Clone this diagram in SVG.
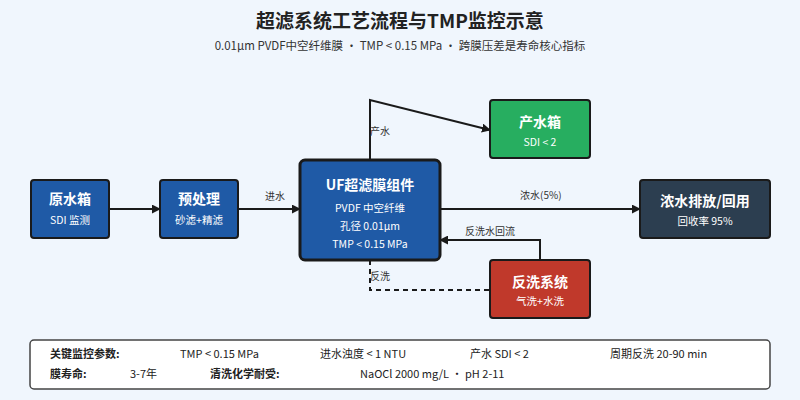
<svg xmlns="http://www.w3.org/2000/svg" width="800" height="400" viewBox="0 0 800 400">
<defs>
<marker id="ah" viewBox="0 0 10 10" refX="9" refY="5" markerWidth="4.5" markerHeight="4.5" orient="auto"><path d="M0,0L10,5L0,10z" fill="#1a1a1a"/></marker>
<style>
text{font-family:"Noto Sans CJK SC","Noto Sans",sans-serif}
.n{stroke:#1a1a1a;stroke-width:2}
.t{fill:#fff;font-weight:bold;font-size:14px;text-anchor:middle}
.s{fill:#fff;font-size:10.5px;text-anchor:middle}
.l{stroke:#1a1a1a;stroke-width:2;fill:none}
.lb{font-size:10px;fill:#333}
.f{font-size:11px;fill:#222}
.fb{font-size:11px;fill:#222;font-weight:bold}
</style>
</defs>
<rect width="800" height="400" fill="#f0f6fd"/>
<text x="400" y="28" text-anchor="middle" font-size="19" font-weight="bold" fill="#222">超滤系统工艺流程与TMP监控示意</text>
<text x="400" y="50" text-anchor="middle" font-size="11.5" fill="#333">0.01μm PVDF中空纤维膜 · TMP &lt; 0.15 MPa · 跨膜压差是寿命核心指标</text>
<g id="edges">
<path class="l" d="M109,209H160" marker-end="url(#ah)"/>
<path class="l" d="M238,209H300" marker-end="url(#ah)"/>
<text class="lb" x="265" y="200">进水</text>
<path class="l" d="M440,209H640" marker-end="url(#ah)"/>
<text class="lb" x="520" y="199">浓水(5%)</text>
<path class="l" d="M370,160V100L490,130" marker-end="url(#ah)"/>
<text class="lb" x="370" y="135">产水</text>
<path class="l" d="M540,260V240H440" marker-end="url(#ah)"/>
<text class="lb" x="465" y="235">反洗水回流</text>
<path class="l" d="M370,260V290H490" stroke-dasharray="5,4"/>
<text class="lb" x="370" y="280">反洗</text>
</g>
<g id="raw"><rect class="n" x="31" y="180" width="78" height="58" rx="3" fill="#1f5aa6"/><text class="t" x="70" y="204">原水箱</text><text class="s" x="70" y="224">SDI 监测</text></g>
<g id="pre"><rect class="n" x="160" y="180" width="78" height="58" rx="3" fill="#1f5aa6"/><text class="t" x="199" y="204">预处理</text><text class="s" x="199" y="224">砂滤+精滤</text></g>
<g id="uf"><rect x="300" y="160" width="140" height="100" rx="5" fill="#1f5aa6" stroke="#1a1a1a" stroke-width="3"/><text class="t" x="370" y="190" font-size="16">UF超滤膜组件</text><text class="s" x="370" y="212">PVDF 中空纤维</text><text class="s" x="370" y="230">孔径 0.01μm</text><text class="s" x="370" y="248">TMP &lt; 0.15 MPa</text></g>
<g id="prod"><rect class="n" x="490" y="100" width="100" height="58" rx="3" fill="#27ae60"/><text class="t" x="540" y="127">产水箱</text><text class="s" x="540" y="146">SDI &lt; 2</text></g>
<g id="conc"><rect class="n" x="640" y="180" width="130" height="58" rx="3" fill="#2c3e50"/><text class="t" x="705" y="206">浓水排放/回用</text><text class="s" x="705" y="225">回收率 95%</text></g>
<g id="bw"><rect class="n" x="490" y="260" width="100" height="58" rx="3" fill="#c0392b"/><text class="t" x="540" y="287">反洗系统</text><text class="s" x="540" y="305">气洗+水洗</text></g>
<g id="footer">
<rect x="30" y="340" width="740" height="49" rx="4" fill="#fff" stroke="#444" stroke-width="1.5"/>
<text class="fb" x="50" y="358">关键监控参数:</text>
<text class="f" x="180" y="358">TMP &lt; 0.15 MPa</text>
<text class="f" x="320" y="358">进水浊度 &lt; 1 NTU</text>
<text class="f" x="470" y="358">产水 SDI &lt; 2</text>
<text class="f" x="610" y="358">周期反洗 20-90 min</text>
<text class="fb" x="50" y="378">膜寿命:</text>
<text class="f" x="130" y="378">3-7年</text>
<text class="fb" x="210" y="378">清洗化学耐受:</text>
<text class="f" x="360" y="378">NaOCl 2000 mg/L · pH 2-11</text>
</g>
</svg>
